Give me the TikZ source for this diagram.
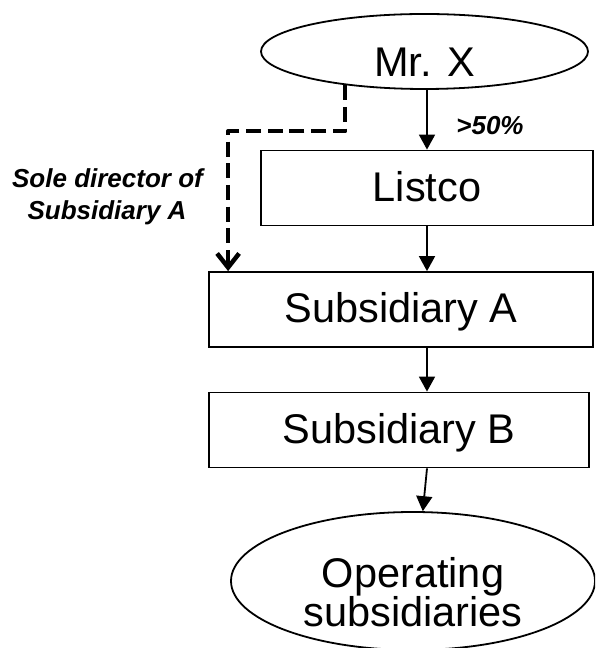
\documentclass[tikz,border=0pt]{standalone}
\usepackage{fontspec}
\setmainfont{Liberation Sans}
\usetikzlibrary{arrows.meta,shapes.geometric}
\begin{document}
\begin{tikzpicture}[x=1pt,y=1pt,
  big/.style={font=\fontsize{41.5}{35}\selectfont},
  box/.style={draw,line width=1.8pt,rectangle,inner sep=0pt,minimum height=75pt,big,text depth=0pt},
  oval/.style={draw,line width=1.8pt,ellipse,inner sep=0pt,big},
  arr/.style={line width=1.8pt,-{Triangle[length=15pt,width=16pt]}},
  darr/.style={line width=4.5pt,dash pattern=on 15pt off 6.7pt,line join=round,-{Straight Barb[length=14pt,width=22pt]}},
  lbl/.style={font=\fontsize{26}{32}\selectfont\bfseries\itshape,inner sep=0pt,anchor=base}]
\clip (0,0) rectangle (595,648);
\node[oval,minimum width=327pt,minimum height=75pt,text height=51pt,text depth=0pt] (mrx) at (424.5,596.5) {Mr. X};
\node[box,minimum width=332pt,text height=28pt] (listco) at (427,460) {Listco};
\node[box,minimum width=384pt,text height=27pt] (suba) at (401,338.5) {Subsidiary A};
\node[box,minimum width=380pt,text height=28pt] (subb) at (399,218) {Subsidiary B};
\node[oval,minimum width=364pt,minimum height=138pt] (op) at (413,67) {};
\node[big,align=center,inner sep=0pt] (optext) at ([yshift=-11.3pt]op.center) {Operating\\subsidiaries};
\draw[arr] (listco.north |- mrx.south) -- (listco.north);
\draw[arr] (listco.south) -- (listco.south |- suba.north);
\draw[arr] (suba.south -| listco.south) -- (subb.north -| listco.south);
\draw[arr] (subb.south -| listco.south) -- (op.82);
\coordinate (dstart) at (mrx.203);
\coordinate (dtip) at ([xshift=20pt]suba.north west);
\draw[darr] (dstart) -- ++(0,-46) -| (dtip);
\node[lbl] (pct) at (490,513) {>50\%};
\node[lbl] (dir1) at (107.5,460) {Sole director of};
\node[lbl] (dir2) at (107,428) {Subsidiary A};
\end{tikzpicture}
\end{document}
